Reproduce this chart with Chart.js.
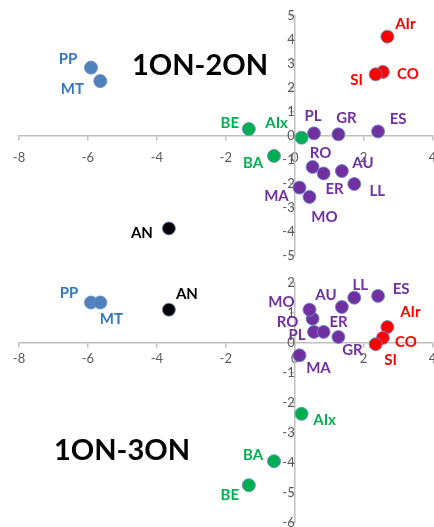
<!DOCTYPE html>
<html>
<head>
<meta charset="utf-8">
<script src="https://cdn.jsdelivr.net/npm/chart.js@4"></script>
<style>
html, body { margin: 0; padding: 0; background: #fff; overflow: hidden; width: 434px; height: 527px; }
.box { position: absolute; left: 0; width: 440px; }
#top { top: 0; height: 265px; }
#bottom { top: 265px; height: 266px; }
.title { position: absolute; font: bold 29px Lato, sans-serif; color: #000; transform: translate(-50%, -50%); white-space: nowrap; }
</style>
</head>
<body>
<div class="box" id="top"><canvas id="chart1"></canvas></div>
<div class="box" id="bottom"><canvas id="chart2"></canvas></div>
<div class="title" style="left:200px; top:63px">1ON-2ON</div>
<div class="title" style="left:122px; top:448px">1ON-3ON</div>
<script>
// samples, their group and the three scores
const names  = ["PP", "MT", "AN", "AIr", "CO", "SI", "BE", "AIx", "BA", "PL", "GR", "ES", "RO", "ER", "AU", "LL", "MA", "MO"];
const groups = ["blue", "blue", "black", "red", "red", "red", "green", "green", "green",
                "purple", "purple", "purple", "purple", "purple", "purple", "purple", "purple", "purple"];
const on1 = [-5.91, -5.64, -3.65, 2.69, 2.56, 2.35, -1.33, 0.20, -0.60, 0.56, 1.27, 2.42, 0.52, 0.84, 1.37, 1.73, 0.14, 0.43];
const on2 = [2.85, 2.29, -3.85, 4.14, 2.67, 2.57, 0.29, -0.07, -0.83, 0.11, 0.07, 0.19, -1.29, -1.56, -1.46, -2.00, -2.15, -2.54];
const on3 = [1.35, 1.35, 1.11, 0.53, 0.17, -0.04, -4.74, -2.36, -3.94, 0.37, 0.20, 1.57, 0.81, 0.37, 1.20, 1.51, -0.41, 1.11];

const groupOrder = ["blue", "black", "green", "purple", "red"];
const fillColors  = { blue: "#4F81BD", black: "#000000", red: "#FF0000", green: "#00B050", purple: "#7030A0" };
const labelColors = { blue: "#3277C0", black: "#000000", red: "#FF0000", green: "#00B050", purple: "#7030A0" };

// label offsets in px from the marker centre
const offsetsTop = {
  PP: [-23, -8], MT: [-28, 8], AN: [-27, 5], AIr: [18, -12], CO: [25, 2], SI: [-19, 6],
  BE: [-19, -6], AIx: [-25, -15], BA: [-21, 7], PL: [-1, -17], GR: [8, -16], ES: [20, -12],
  RO: [8, -14], ER: [11, 16], AU: [21, -8], LL: [23, 7], MA: [-23, 9], MO: [15, 20]
};
const offsetsBottom = {
  PP: [-22, -9], MT: [11, 17], AN: [18, -16], AIr: [23, -15], CO: [23, 4], SI: [15, 16],
  BE: [-19, 10], AIx: [23, 6], BA: [-21, -6], PL: [-17, 3], GR: [14, 13], ES: [23, -7],
  RO: [-25, 3], ER: [15, -10], AU: [-16, -12], LL: [6, -13], MA: [19, 13], MO: [-28, -8]
};

const pointLabels = {
  id: "pointLabels",
  afterDatasetsDraw(chart, args, opts) {
    const ctx = chart.ctx;
    ctx.save();
    ctx.font = "bold 15px Lato, sans-serif";
    ctx.textAlign = "center";
    ctx.textBaseline = "middle";
    chart.data.datasets.forEach((ds, i) => {
      chart.getDatasetMeta(i).data.forEach((pt, j) => {
        const name = ds.names[j];
        const off = opts.offsets[name] || [0, 0];
        ctx.fillStyle = ds.labelColor;
        ctx.fillText(name, pt.x + off[0], pt.y + off[1]);
      });
    });
    ctx.restore();
  }
};

function buildDatasets(yValues) {
  return groupOrder.map((g) => {
    const idx = names.map((n, i) => i).filter((i) => groups[i] === g);
    return {
      label: g,
      names: idx.map((i) => names[i]),
      labelColor: labelColors[g],
      data: idx.map((i) => ({ x: on1[i], y: yValues[i] })),
      backgroundColor: fillColors[g],
      borderColor: "rgba(110,140,200,0.9)",
      borderWidth: 1,
      pointRadius: 6.5
    };
  });
}

// axes sit on the zero lines, so don't let their labels eat into the plot area
function noPadding(scale) {
  scale.paddingLeft = 0;
  scale.paddingRight = 0;
  scale.paddingTop = 0;
  scale.paddingBottom = 0;
}

function makeChart(id, yValues, yMin, yMax, offsets, padding, xPad, yPad) {
  const tickFont = { family: "Lato, sans-serif", size: 13 };
  return new Chart(document.getElementById(id), {
    type: "scatter",
    data: { datasets: buildDatasets(yValues) },
    options: {
      responsive: true,
      maintainAspectRatio: false,
      animation: false,
      layout: { padding },
      plugins: {
        legend: { display: false },
        tooltip: { enabled: false },
        pointLabels: { offsets }
      },
      scales: {
        x: {
          type: "linear",
          min: -8, max: 4,
          position: { y: 0 },
          afterFit: noPadding,
          ticks: { stepSize: 2, color: "#595959", font: tickFont, padding: xPad },
          grid: { drawOnChartArea: false, tickLength: 4, color: "#BFBFBF", lineWidth: 1.5 },
          border: { color: "#BFBFBF", width: 1.5 }
        },
        y: {
          type: "linear",
          min: yMin, max: yMax,
          position: { x: 0 },
          afterFit: noPadding,
          ticks: { stepSize: 1, color: "#595959", font: tickFont, padding: yPad },
          grid: { drawOnChartArea: false, tickLength: 4, color: "#BFBFBF", lineWidth: 1.5 },
          border: { color: "#BFBFBF", width: 1.5 }
        }
      }
    },
    plugins: [pointLabels]
  });
}

makeChart("chart1", on2, -5, 5, offsetsTop, { left: 19, right: 5, top: 16, bottom: 9 }, 10, 9);
makeChart("chart2", on3, -6, 2, offsetsBottom, { left: 19, right: 5, top: 18, bottom: 8 }, 4, 11);
</script>
</body>
</html>
